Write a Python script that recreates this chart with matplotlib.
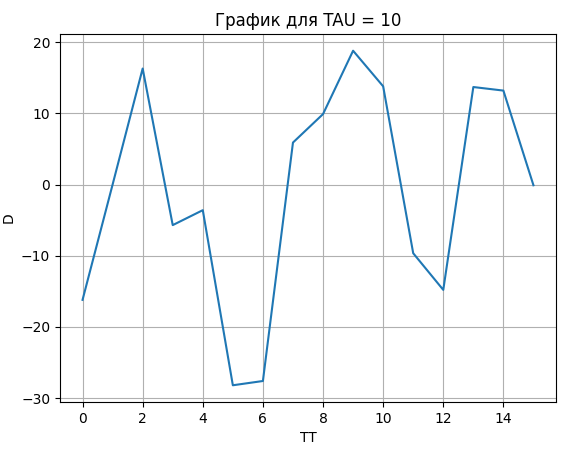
import matplotlib
matplotlib.use("Agg")
import matplotlib.pyplot as plt

tt = [0, 1, 2, 3, 4, 5, 6, 7, 8, 9, 10, 11, 12, 13, 14, 15]
d = [-16.2, 0.0, 16.3, -5.7, -3.6, -28.2, -27.6, 5.9, 9.9, 18.8, 13.8,
     -9.65, -14.8, 13.7, 13.2, -0.1]

title = "График для TAU = 10"
xlabel = "TT"
ylabel = "D"

fig = plt.figure(figsize=(5.72, 4.53), dpi=100)
ax = fig.add_axes([60 / 572, 51 / 453, 496 / 572, 368 / 453])
ax.plot(tt, d, color="#1f77b4")
ax.set_title(title)
ax.set_xlabel(xlabel)
ax.set_ylabel(ylabel)
ax.grid(True)
fig.savefig("out.png", dpi=100)
